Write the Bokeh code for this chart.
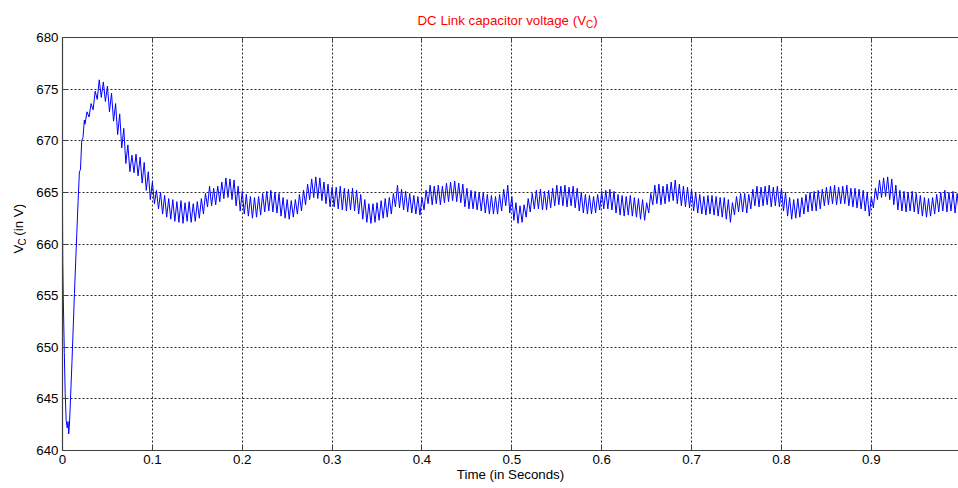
import numpy as np
from bokeh.plotting import figure
from bokeh.layouts import column, row
from bokeh.models import Range1d, LinearAxis, FixedTicker, ColumnDataSource
from bokeh.core.properties import value
from bokeh.embed import file_html
from bokeh.resources import INLINE

# ---------------- data ----------------
title_main = "DC Link capacitor voltage (V"
title_sub = "C"
title_end = ")"
ylabel_main = "V"
ylabel_sub = "C"
ylabel_end = "(in V)"
xlabel = "Time (in Seconds)"

x_ticks = [0, 0.1, 0.2, 0.3, 0.4, 0.5, 0.6, 0.7, 0.8, 0.9]
x_tick_labels = ["0", "0.1", "0.2", "0.3", "0.4", "0.5", "0.6", "0.7", "0.8", "0.9"]
y_ticks = [640, 645, 650, 655, 660, 665, 670, 675, 680]
y_tick_labels = ["640", "645", "650", "655", "660", "665", "670", "675", "680"]

# start-up transient (seconds, volts)
t_start = [0.0, 0.0003, 0.0008, 0.002, 0.003, 0.0041, 0.0052, 0.0062, 0.0069, 0.0076,
           0.0084, 0.0106, 0.0133, 0.0159, 0.0174, 0.0188, 0.0200, 0.0214, 0.0228, 0.0243]
v_start = [663.2, 658.3, 655.0, 649.5, 645.5, 642.9, 642.2, 642.8, 641.6, 642.3,
           643.9, 648.7, 655.2, 661.0, 664.2, 667.0, 667.2, 670.0, 670.3, 672.0]

# ripple: troughs and crests of each cycle
ripple_t0 = 0.025
ripple_period = 0.1 / 22
ripple_low = [
    671.6, 672.3, 673.0, 674.0, 674.2, 673.8, 672.8, 671.9, 670.6, 669.3, 667.8, 667.0, 666.9, 666.6, 665.9, 665.2, 664.3,
    663.9, 663.4, 662.9, 662.6, 662.4, 662.2, 662.1, 662.0, 662.2, 662.1, 662.2, 662.5, 662.9, 663.6, 663.7, 663.8, 664.1, 664.4, 664.5, 664.3, 663.7, 663.2,
    662.9, 662.7, 662.5, 662.6, 662.8, 663.1, 663.2, 663.1, 663.0, 662.7, 662.5, 662.4, 662.6, 662.9, 663.2, 663.8, 664.3, 664.5, 664.4, 664.2, 663.9, 663.6,
    663.6, 663.4, 663.3, 663.2, 663.3, 663.2, 662.9, 662.4, 662.1, 662.0, 662.1, 662.3, 662.5, 662.6, 662.9, 663.6, 663.5, 663.3, 663.1, 663.0, 662.9, 662.8,
    663.3, 663.9, 663.8, 663.9, 663.8, 664.0, 664.1, 664.2, 664.1, 664.0, 663.6, 663.4, 663.4, 663.3, 663.2, 663.0, 662.9, 662.9, 662.9, 663.2, 663.7, 663.0,
    662.3, 662.0, 662.1, 662.6, 663.1, 663.4, 663.4, 663.3, 663.3, 663.5, 663.7, 663.8, 663.7, 663.6, 663.7, 663.5, 663.2, 663.0, 662.9, 662.9, 663.0, 663.3,
    663.4, 663.4, 663.3, 663.0, 662.8, 662.7, 662.8, 662.7, 662.6, 662.4, 662.3, 663.0, 663.8, 663.9, 663.8, 663.9, 664.1, 664.2, 663.9, 663.7, 663.6, 663.5,
    663.2, 663.0, 662.9, 662.8, 662.9, 662.8, 662.7, 662.6, 662.4, 662.1, 662.8, 663.1, 663.1, 663.0, 663.4, 663.7, 663.6, 663.7, 663.8, 663.6, 663.7, 663.6,
    663.2, 662.7, 662.4, 662.5, 662.6, 662.9, 663.1, 663.2, 663.2, 663.4, 663.7, 663.8, 663.9, 663.8, 663.9, 663.9, 663.7, 663.6, 663.5, 663.4, 663.2, 662.7,
    663.5, 664.3, 664.5, 664.6, 664.3, 663.8, 663.3, 663.2, 663.1, 663.2, 663.1, 662.9, 662.7, 662.6, 662.7, 662.9, 663.1, 663.2, 663.1, 663.2, 663.0, 663.1,
]
ripple_high = [
    672.8, 673.6, 674.8, 675.9, 675.7, 675.3, 674.6, 673.6, 672.6, 671.2, 669.6, 668.6, 668.7, 668.4, 667.9, 667.0, 666.0,
    665.2, 665.0, 664.7, 664.4, 664.3, 664.1, 664.2, 664.0, 664.1, 663.9, 664.1, 664.4, 664.9, 665.6, 665.4, 665.6, 666.0, 666.4, 666.3, 666.2, 665.6, 665.1,
    664.8, 664.6, 664.5, 664.6, 664.9, 665.1, 665.2, 665.0, 664.9, 664.5, 664.3, 664.2, 664.3, 664.8, 665.2, 665.8, 666.3, 666.5, 666.4, 666.0, 665.8, 665.5,
    665.5, 665.6, 665.4, 665.3, 665.4, 665.2, 664.8, 664.3, 663.9, 663.9, 664.0, 664.2, 664.4, 664.5, 664.9, 665.7, 665.3, 665.1, 664.9, 664.7, 664.6, 664.5,
    665.2, 665.7, 665.6, 665.7, 665.6, 665.9, 666.0, 666.1, 665.9, 665.8, 665.4, 665.2, 665.1, 665.0, 665.0, 664.8, 664.7, 664.6, 664.8, 665.3, 665.7, 664.6,
    664.0, 663.7, 663.8, 664.4, 664.9, 665.2, 665.3, 665.1, 665.2, 665.4, 665.7, 665.6, 665.7, 665.5, 665.6, 665.4, 665.0, 664.8, 664.7, 664.6, 664.8, 665.1,
    665.2, 665.3, 665.1, 664.8, 664.7, 664.6, 664.7, 664.5, 664.4, 664.3, 664.0, 664.9, 665.7, 665.8, 665.6, 665.8, 666.0, 666.2, 665.8, 665.6, 665.5, 665.3,
    665.0, 664.8, 664.6, 664.7, 664.7, 664.6, 664.5, 664.5, 664.3, 664.0, 664.6, 664.9, 664.9, 664.8, 665.3, 665.6, 665.5, 665.6, 665.7, 665.5, 665.6, 665.4,
    665.0, 664.5, 664.3, 664.4, 664.5, 664.8, 665.0, 665.1, 665.2, 665.3, 665.5, 665.6, 665.7, 665.5, 665.6, 665.7, 665.4, 665.4, 665.3, 665.2, 665.0, 664.6,
    665.4, 666.2, 666.4, 666.5, 666.3, 665.7, 665.2, 665.1, 665.0, 665.1, 664.9, 664.7, 664.5, 664.4, 664.5, 664.8, 665.0, 665.2, 665.0, 665.1, 664.9, 665.0,
]

# ---------------- assemble the trace ----------------
t_vals = list(t_start)
v_vals = list(v_start)
for k, (lo, hi) in enumerate(zip(ripple_low, ripple_high)):
    t_vals.append(ripple_t0 + k * ripple_period)
    v_vals.append(lo)
    t_vals.append(ripple_t0 + (k + 0.5) * ripple_period)
    v_vals.append(hi)
src = ColumnDataSource(data=dict(t=t_vals, v=v_vals))

FONT = "Liberation Sans"
AX = "#404040"
FS = "13.3px"

# ---------------- main plot ----------------
p = figure(width=932, height=459,
           x_range=Range1d(0, 0.997), y_range=Range1d(640, 680),
           output_backend="svg", toolbar_location=None,
           min_border_left=36, min_border_right=0, min_border_top=8, min_border_bottom=38)
p.background_fill_color = "white"
p.border_fill_color = "white"
p.outline_line_color = None

p.line("t", "v", source=src, line_color="#0000FF", line_width=1)

p.xaxis.ticker = FixedTicker(ticks=x_ticks)
p.xaxis.major_label_overrides = {t: s for t, s in zip(x_ticks, x_tick_labels)}
p.yaxis.ticker = FixedTicker(ticks=y_ticks)
p.yaxis.major_label_overrides = {t: s for t, s in zip(y_ticks, y_tick_labels)}
for ax in (p.xaxis[0], p.yaxis[0]):
    ax.major_tick_in = 5
    ax.major_tick_out = 0
    ax.minor_tick_in = 0
    ax.minor_tick_out = 0
    ax.axis_line_color = AX
    ax.axis_line_width = 1.2
    ax.major_tick_line_color = AX
    ax.major_label_text_font = FONT
    ax.major_label_text_font_size = FS
    ax.major_label_text_color = "black"
    ax.major_label_standoff = 4

p.xaxis.axis_label = xlabel
p.xaxis.axis_label_text_font = FONT
p.xaxis.axis_label_text_font_size = FS
p.xaxis.axis_label_text_font_style = "normal"
p.xaxis.axis_label_text_color = "black"
p.xaxis.axis_label_standoff = 0

top_axis = LinearAxis(ticker=FixedTicker(ticks=x_ticks),
                      major_tick_in=5, major_tick_out=0, minor_tick_in=0, minor_tick_out=0,
                      axis_line_color=AX, axis_line_width=1.2, major_tick_line_color=AX,
                      major_label_text_color=None, major_label_text_font_size="0px",
                      major_label_standoff=0)
p.add_layout(top_axis, "above")

p.xgrid.ticker = FixedTicker(ticks=x_ticks)
p.ygrid.ticker = FixedTicker(ticks=y_ticks)
for g in (p.xgrid[0], p.ygrid[0]):
    g.grid_line_color = "black"
    g.grid_line_alpha = 0.85
    g.grid_line_dash = "2 2"
    g.grid_line_width = 1

# ---------------- title strip (text with subscript) ----------------
tf = figure(width=958, height=29, x_range=Range1d(0, 958), y_range=Range1d(0, 29),
            output_backend="svg", toolbar_location=None, min_border=0,
            x_axis_type=None, y_axis_type=None)
tf.outline_line_color = None
tf.background_fill_color = "white"
tf.border_fill_color = "white"
tf.text(x=[417], y=[9], text=[title_main], text_font=value(FONT), text_font_size=FS,
        text_color="red", text_align="left", text_baseline="alphabetic")
tf.text(x=[585.5], y=[5], text=[title_sub], text_font=value(FONT), text_font_size="10px",
        text_color="red", text_align="left", text_baseline="alphabetic")
tf.text(x=[592.7], y=[9], text=[title_end], text_font=value(FONT), text_font_size=FS,
        text_color="red", text_align="left", text_baseline="alphabetic")

# ---------------- y-label strip (rotated text with subscript) ----------------
yf = figure(width=26, height=459, x_range=Range1d(0, 26), y_range=Range1d(0, 459),
            output_backend="svg", toolbar_location=None, min_border=0,
            x_axis_type=None, y_axis_type=None)
yf.outline_line_color = None
yf.background_fill_color = "white"
yf.border_fill_color = "white"
yf.text(x=[18], y=[219], text=[ylabel_main], text_font=value(FONT), text_font_size=FS,
        text_color="black", text_align="left", text_baseline="alphabetic", angle=np.pi / 2)
yf.text(x=[21.5], y=[227.9], text=[ylabel_sub], text_font=value(FONT), text_font_size="10px",
        text_color="black", text_align="left", text_baseline="alphabetic", angle=np.pi / 2)
yf.text(x=[18], y=[238.8], text=[ylabel_end], text_font=value(FONT), text_font_size=FS,
        text_color="black", text_align="left", text_baseline="alphabetic", angle=np.pi / 2)

layout = column(tf, row(yf, p, spacing=0), spacing=0)

open("out.html", "w").write(file_html(layout, INLINE))
